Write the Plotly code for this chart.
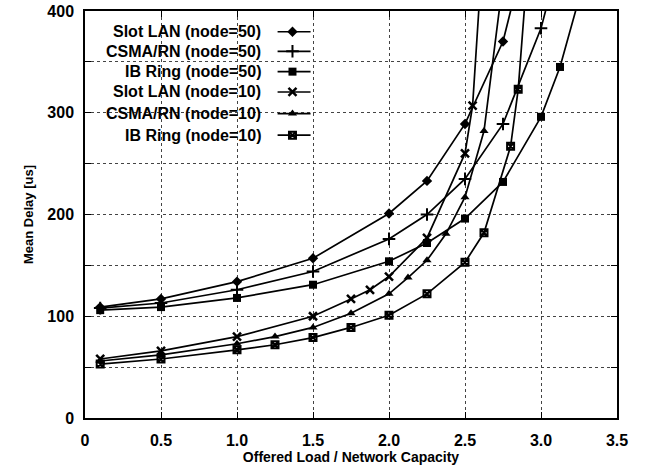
import plotly.graph_objects as go

# ---------------- data ----------------
series_names = [
    "Slot LAN (node=50)",
    "CSMA/RN (node=50)",
    "IB Ring (node=50)",
    "Slot LAN (node=10)",
    "CSMA/RN (node=10)",
    "IB Ring (node=10)",
]

slot50_x = [0.1, 0.5, 1.0, 1.5, 2.0, 2.25, 2.5, 2.75, 2.85]
slot50_y = [109, 117, 134, 157, 201, 233, 289, 370, 430]

csma50_x = [0.1, 0.5, 1.0, 1.5, 2.0, 2.25, 2.5, 2.75, 3.0, 3.1]
csma50_y = [108, 113, 126, 144, 176, 200, 235, 289, 383, 440]

ib50_x = [0.1, 0.5, 1.0, 1.5, 2.0, 2.25, 2.5, 2.75, 3.0, 3.125, 3.25]
ib50_y = [106, 109, 118, 131, 154, 172, 196, 232, 296, 345, 412]

slot10_x = [0.1, 0.5, 1.0, 1.5, 1.75, 1.875, 2.0, 2.25, 2.5, 2.55, 2.6]
slot10_y = [58, 66, 80, 100, 117, 126, 139, 177, 260, 307, 422]

csma10_x = [0.1, 0.5, 1.0, 1.25, 1.5, 1.75, 2.0, 2.125, 2.25, 2.375, 2.5, 2.625, 2.75]
csma10_y = [56, 62, 73, 80, 89, 103, 122, 138, 155, 181, 217, 282, 430]

ib10_x = [0.1, 0.5, 1.0, 1.25, 1.5, 1.75, 2.0, 2.25, 2.5, 2.625, 2.8, 2.85, 2.9]
ib10_y = [53, 58, 67, 72, 79, 89, 101, 122, 153, 182, 267, 323, 420]

x_tickvals = [0, 0.5, 1.0, 1.5, 2.0, 2.5, 3.0, 3.5]
x_ticktext = ["0", "0.5", "1.0", "1.5", "2.0", "2.5", "3.0", "3.5"]
y_tickvals = [0, 50, 100, 150, 200, 250, 300, 350, 400]
y_ticktext = ["0", "", "100", "", "200", "", "300", "", "400"]

# ---------------- styles ----------------
markers = [
    dict(symbol="diamond", size=8, color="black"),
    dict(symbol="cross-thin", size=9, color="black", line=dict(width=2, color="black")),
    dict(symbol="square", size=8, color="black"),
    dict(symbol="x-thin", size=8, color="black", line=dict(width=2.5, color="black")),
    dict(symbol="triangle-up", size=8, color="black"),
    dict(symbol="square-x-open", size=7, color="black", line=dict(width=2, color="black")),
]

data = [
    (slot50_x, slot50_y),
    (csma50_x, csma50_y),
    (ib50_x, ib50_y),
    (slot10_x, slot10_y),
    (csma10_x, csma10_y),
    (ib10_x, ib10_y),
]

FONT = "Liberation Sans, Arial, sans-serif"

fig = go.Figure()
for name, (xs, ys), mk in zip(series_names, data, markers):
    fig.add_trace(go.Scatter(
        x=xs, y=ys, name=name, mode="lines+markers",
        line=dict(color="black", width=1.7),
        marker=mk, showlegend=False, cliponaxis=True,
    ))

# ---- gnuplot-style key (text, then sample line with a marker) ----
key_rows = [0.949, 0.901, 0.851, 0.801, 0.748, 0.695]
text_right = 0.334
line_x0, line_x1, mark_x = 0.362, 0.424, 0.39
shapes = []
annotations = []
for name, mk, yr in zip(series_names, markers, key_rows):
    annotations.append(dict(
        x=text_right, y=yr, xref="x domain", yref="y domain",
        text="<b>%s</b>" % name, showarrow=False, xanchor="right", yanchor="middle",
        font=dict(family=FONT, size=16, color="black"),
    ))
    shapes.append(dict(
        type="line", xref="x domain", yref="y domain",
        x0=line_x0, x1=line_x1, y0=yr, y1=yr,
        line=dict(color="black", width=1.7),
    ))
    fig.add_trace(go.Scatter(
        x=[mark_x], y=[yr], xaxis="x2", yaxis="y2", mode="markers",
        marker=mk, showlegend=False, hoverinfo="skip",
    ))

axis_common = dict(
    showline=True, linecolor="black", linewidth=1.5, mirror="allticks",
    ticks="inside", ticklen=6, tickcolor="black", tickwidth=1.2,
    showgrid=True, gridcolor="#444444", gridwidth=1, griddash="dot",
    zeroline=False, automargin=False, ticklabeloverflow="allow",
    tickfont=dict(family=FONT, size=16, color="black"),
)

fig.update_layout(
    width=645, height=468,
    margin=dict(l=85, r=28, t=11, b=50, autoexpand=False),
    paper_bgcolor="white", plot_bgcolor="white",
    showlegend=False,
    xaxis=dict(
        range=[0, 3.5], tickvals=x_tickvals,
        ticktext=["<b>%s</b>" % t for t in x_ticktext],
        ticklabelstandoff=7,
        title=dict(text="<b>Offered Load / Network Capacity</b>",
                   font=dict(family=FONT, size=14, color="black"), standoff=2),
        **axis_common,
    ),
    yaxis=dict(
        range=[0, 400], tickvals=y_tickvals,
        ticktext=["<b>%s</b>" % t if t else "" for t in y_ticktext],
        ticklabelstandoff=6,
        title=dict(text="<b>Mean Delay [us]</b>",
                   font=dict(family=FONT, size=13, color="black"), standoff=11),
        **axis_common,
    ),
    xaxis2=dict(overlaying="x", range=[0, 1], visible=False),
    yaxis2=dict(overlaying="y", range=[0, 1], visible=False),
    shapes=shapes,
    annotations=annotations,
)

# remove the default 8px page margin so the figure fills the window exactly
fig.write_html(
    "out.html",
    config={"displayModeBar": False},
    post_script="document.body.style.margin='0';",
)
